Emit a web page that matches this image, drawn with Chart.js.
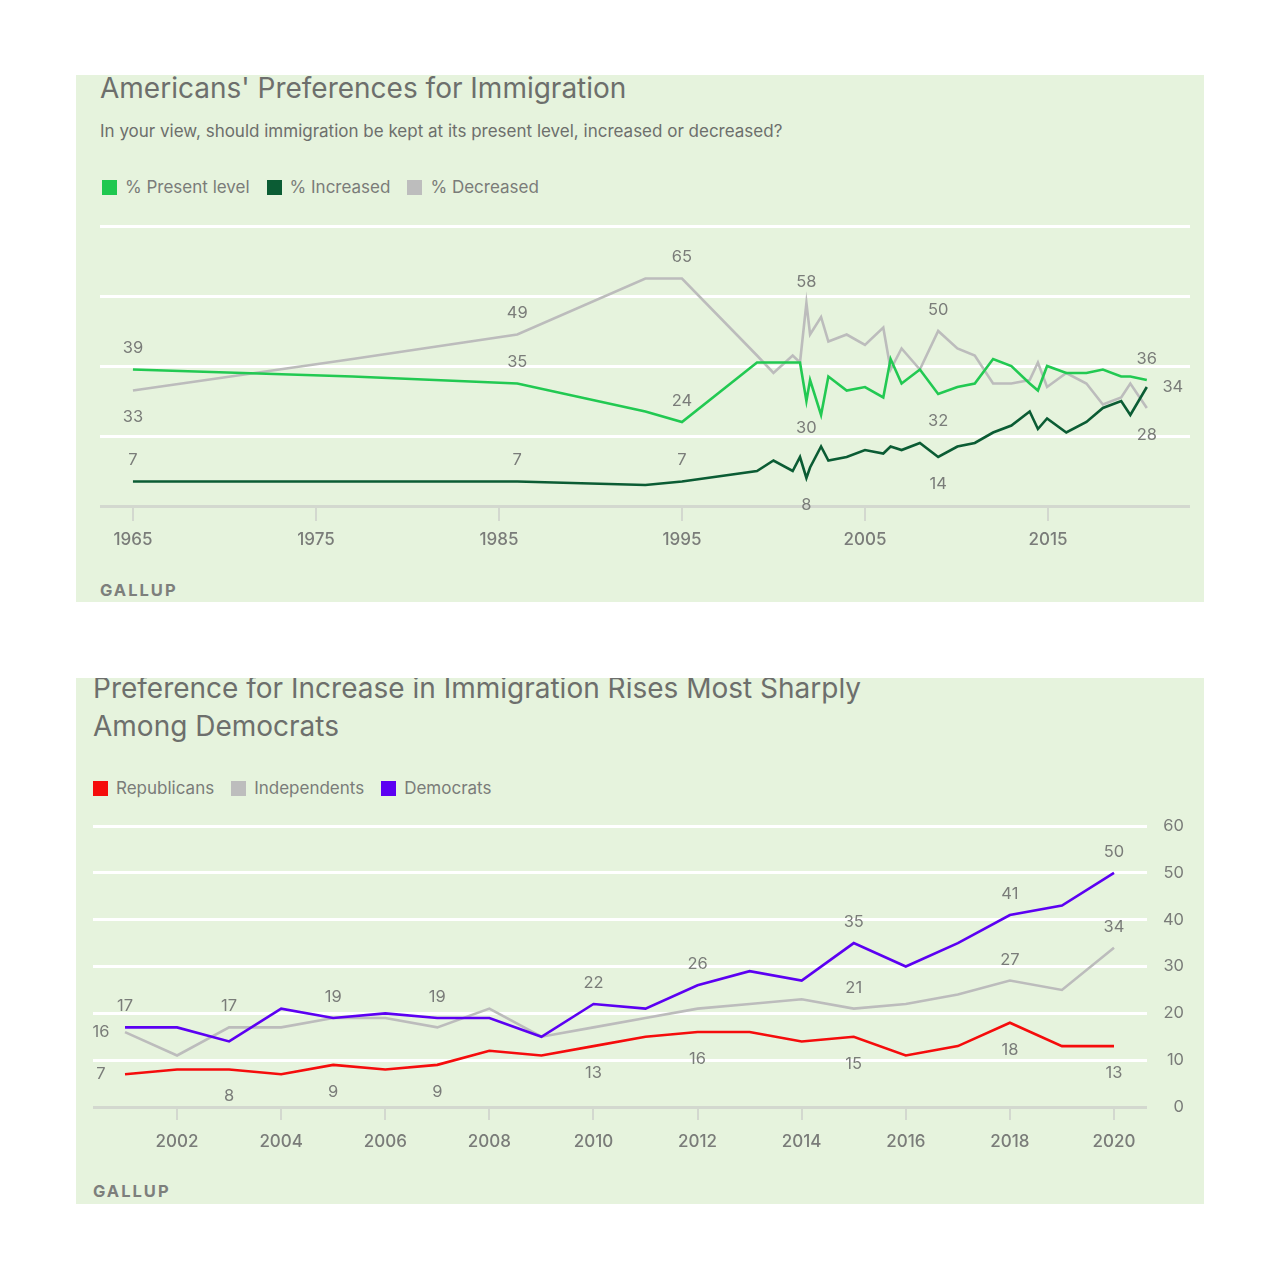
<!DOCTYPE html>
<html><head><meta charset="utf-8">
<script src="https://cdn.jsdelivr.net/npm/chart.js@4.4.0/dist/chart.umd.min.js"></script>
<style>
html,body{margin:0;padding:0;background:#fff;width:1280px;height:1280px;overflow:hidden;font-family:Inter,Roboto,"Noto Sans",sans-serif;}
.panel{position:absolute;left:76px;width:1128px;background:#e6f3dd;overflow:hidden;}
#p1{top:75px;height:527px;}
#p2{top:678px;height:526px;}
.title{position:absolute;color:#6d6f6c;font-size:28px;line-height:38px;white-space:nowrap;}
.sub{position:absolute;color:#6d6f6c;font-size:17px;line-height:20px;white-space:nowrap;}
.legend{position:absolute;display:flex;align-items:center;font-size:17px;line-height:20px;color:#7a7c79;white-space:nowrap;}
.legend .box{display:inline-block;width:15px;height:15px;margin-right:8px;}
.legend .item{display:flex;align-items:center;margin-right:17px;}
.src{position:absolute;font-size:16.5px;line-height:20px;font-weight:bold;letter-spacing:2px;color:#7d7f7c;}
canvas{position:absolute;left:0;}
</style>
</head>
<body>
<div class="panel" id="p1">
  <div class="title" style="left:24px;top:-6px;">Americans' Preferences for Immigration</div>
  <div class="sub" style="left:24px;top:46px;">In your view, should immigration be kept at its present level, increased or decreased?</div>
  <div class="legend" style="left:26px;top:102px;">
    <span class="item"><span class="box" style="background:#1fc850"></span>% Present level</span>
    <span class="item"><span class="box" style="background:#0b5c34"></span>% Increased</span>
    <span class="item"><span class="box" style="background:#bdbdbd"></span>% Decreased</span>
  </div>
  <canvas id="c1" width="1128" height="360" style="top:135px;width:1128px;height:360px;"></canvas>
  <div class="src" style="left:24px;top:505px;">GALLUP</div>
</div>
<div class="panel" id="p2">
  <div class="title" style="left:17px;top:-9px;">Preference for Increase in Immigration Rises Most Sharply<br>Among Democrats</div>
  <div class="legend" style="left:17px;top:100px;">
    <span class="item"><span class="box" style="background:#f50c0c"></span>Republicans</span>
    <span class="item"><span class="box" style="background:#bdbdbd"></span>Independents</span>
    <span class="item"><span class="box" style="background:#5c00f2"></span>Democrats</span>
  </div>
  <canvas id="c2" width="1128" height="380" style="top:122px;width:1128px;height:380px;"></canvas>
  <div class="src" style="left:17px;top:503px;">GALLUP</div>
</div>
<script>
// ---------- Chart 1 data ----------
const years1 = [1965, 1977, 1986, 1993, 1995, 1999.1, 2000, 2001.05, 2001.45, 2001.8, 2002, 2002.6, 2003, 2004, 2005, 2006, 2006.4, 2007, 2008, 2009, 2010.05, 2011, 2012, 2013, 2014, 2014.45, 2014.95, 2016, 2017.1, 2018, 2019, 2019.5, 2020.4];
const presentLevel = [39, 37, 35, 27, 24, 41, 41, 41, 41, 30, 36, 26, 37, 33, 34, 31, 42, 35, 39, 32, 34, 35, 42, 40, 35, 33, 40, 38, 38, 39, 37, 37, 36];
const increased = [7, 7, 7, 6, 7, 10, 13, 10, 14, 8, 11, 17, 13, 14, 16, 15, 17, 16, 18, 14, 17, 18, 21, 23, 27, 22, 25, 21, 24, 28, 30, 26, 34];
const decreased = [33, 42, 49, 65, 65, 43, 38, 43, 41, 58, 49, 54, 47, 49, 46, 51, 39, 45, 39, 50, 45, 43, 35, 35, 36, 41, 34, 38, 35, 29, 31, 35, 28];
const xTicks1 = [1965, 1975, 1985, 1995, 2005, 2015];
const yTicks1 = [0, 20, 40, 60, 80];

// ---------- Chart 2 data ----------
const years2 = [2001, 2002, 2003, 2004, 2005, 2006, 2007, 2008, 2009, 2010, 2011, 2012, 2013, 2014, 2015, 2016, 2017, 2018, 2019, 2020];
const republicans = [7, 8, 8, 7, 9, 8, 9, 12, 11, 13, 15, 16, 16, 14, 15, 11, 13, 18, 13, 13];
const independents = [16, 11, 17, 17, 19, 19, 17, 21, 15, 17, 19, 21, 22, 23, 21, 22, 24, 27, 25, 34];
const democrats = [17, 17, 14, 21, 19, 20, 19, 19, 15, 22, 21, 26, 29, 27, 35, 30, 35, 41, 43, 50];
const xTicks2 = [2002, 2004, 2006, 2008, 2010, 2012, 2014, 2016, 2018, 2020];
const yTicks2 = [0, 10, 20, 30, 40, 50, 60];

// label placement (which points carry a value label)
const labels1 = [
  {ds:'present', i:0, pos:'above'}, {ds:'present', i:2, pos:'above'}, {ds:'present', i:4, pos:'above'},
  {ds:'present', i:9, pos:'below'}, {ds:'present', i:19, pos:'below'}, {ds:'present', i:32, pos:'above'},
  {ds:'increased', i:0, pos:'above'}, {ds:'increased', i:2, pos:'above'}, {ds:'increased', i:4, pos:'above'},
  {ds:'increased', i:9, pos:'below'}, {ds:'increased', i:19, pos:'below'}, {ds:'increased', i:32, pos:'right'},
  {ds:'decreased', i:0, pos:'below'}, {ds:'decreased', i:2, pos:'above'}, {ds:'decreased', i:4, pos:'above'},
  {ds:'decreased', i:9, pos:'above'}, {ds:'decreased', i:19, pos:'above'}, {ds:'decreased', i:32, pos:'below'}
];
const labels2 = [
  {ds:'dem', i:0, pos:'above'}, {ds:'dem', i:4, pos:'above'}, {ds:'dem', i:6, pos:'above'}, {ds:'dem', i:9, pos:'above'},
  {ds:'dem', i:11, pos:'above'}, {ds:'dem', i:14, pos:'above'}, {ds:'dem', i:17, pos:'above'}, {ds:'dem', i:19, pos:'above'},
  {ds:'ind', i:0, pos:'left'}, {ds:'ind', i:2, pos:'above'}, {ds:'ind', i:14, pos:'above'}, {ds:'ind', i:17, pos:'above'}, {ds:'ind', i:19, pos:'above'},
  {ds:'rep', i:0, pos:'left'}, {ds:'rep', i:2, pos:'below'}, {ds:'rep', i:4, pos:'below'}, {ds:'rep', i:6, pos:'below'},
  {ds:'rep', i:9, pos:'below'}, {ds:'rep', i:11, pos:'below'}, {ds:'rep', i:14, pos:'below'}, {ds:'rep', i:17, pos:'below'}, {ds:'rep', i:19, pos:'below'}
];

const FONT = 'Inter, Roboto, "Noto Sans", sans-serif';
const TXT = '#7a7c79';

const pointLabels = {
  id: 'pointLabels',
  afterDraw(chart, args, opts) {
    const ctx = chart.ctx;
    ctx.save();
    ctx.font = '16.5px ' + FONT;
    ctx.fillStyle = TXT;
    ctx.textAlign = 'center';
    ctx.textBaseline = 'middle';
    (opts.items || []).forEach(it => {
      const dsIndex = chart.data.datasets.findIndex(d => d.key === it.ds);
      const pt = chart.getDatasetMeta(dsIndex).data[it.i];
      const v = chart.data.datasets[dsIndex].data[it.i].y;
      let x = pt.x, y = pt.y;
      if (it.pos === 'above') y -= 21;
      else if (it.pos === 'below') y += 27;
      else if (it.pos === 'left') x -= 24;
      else if (it.pos === 'right') x += 26;
      ctx.fillText(String(v), x, y);
    });
    ctx.restore();
  }
};

function pts(xs, ys) { return xs.map((x, i) => ({x: x, y: ys[i]})); }
function line(key, xs, ys, color) {
  return {key: key, data: pts(xs, ys), borderColor: color, backgroundColor: color, borderWidth: 2.6,
          pointRadius: 0, pointHoverRadius: 0, tension: 0, fill: false};
}

new Chart(document.getElementById('c1'), {
  type: 'line',
  data: {datasets: [
    line('increased', years1, increased, '#0b5c34'),
    line('present', years1, presentLevel, '#22c952'),
    line('decreased', years1, decreased, '#bcbcbc')
  ]},
  options: {
    responsive: false, animation: false, devicePixelRatio: 1,
    layout: {padding: {left: 24, right: 14, top: 16, bottom: 0}},
    plugins: {legend: {display: false}, tooltip: {enabled: false}, pointLabels: {items: labels1}},
    scales: {
      x: {type: 'linear', min: 1963.2, max: 2022.76,
          afterBuildTicks: s => { s.ticks = xTicks1.map(v => ({value: v})); },
          afterFit: s => { s.height = 64; },
          grid: {drawOnChartArea: false, drawTicks: true, tickLength: 15, color: '#d3d8cf', lineWidth: 2},
          border: {display: false},
          ticks: {callback: v => String(v), color: TXT, font: {size: 17, weight: '500', family: FONT}, padding: 9, maxRotation: 0, autoSkip: false}},
      y: {min: 0, max: 80,
          afterBuildTicks: s => { s.ticks = yTicks1.map(v => ({value: v})); },
          afterFit: s => { s.width = 0; },
          ticks: {display: false}, border: {display: false},
          grid: {color: c => c.tick && c.tick.value === 0 ? '#d3d8cf' : '#ffffff', lineWidth: 3, drawTicks: false}}
    }
  },
  plugins: [pointLabels]
});

new Chart(document.getElementById('c2'), {
  type: 'line',
  data: {datasets: [
    line('dem', years2, democrats, '#5c00f2'),
    line('rep', years2, republicans, '#f50c0c'),
    line('ind', years2, independents, '#bcbcbc')
  ]},
  options: {
    responsive: false, animation: false, devicePixelRatio: 1,
    layout: {padding: {left: 17, right: 20, top: 26, bottom: 0}},
    plugins: {legend: {display: false}, tooltip: {enabled: false}, pointLabels: {items: labels2}},
    scales: {
      x: {type: 'linear', min: 2000.385, max: 2020.634,
          afterBuildTicks: s => { s.ticks = xTicks2.map(v => ({value: v})); },
          afterFit: s => { s.height = 73; },
          grid: {drawOnChartArea: false, drawTicks: true, tickLength: 13, color: '#d3d8cf', lineWidth: 2},
          border: {display: false},
          ticks: {callback: v => String(v), color: TXT, font: {size: 17, weight: '500', family: FONT}, padding: 12, maxRotation: 0, autoSkip: false}},
      y: {position: 'right', min: 0, max: 60,
          afterBuildTicks: s => { s.ticks = yTicks2.map(v => ({value: v})); },
          afterFit: s => { s.width = 37; },
          ticks: {color: TXT, font: {size: 16.5, family: FONT}, crossAlign: 'far', padding: 0},
          border: {display: false},
          grid: {color: c => c.tick && c.tick.value === 0 ? '#d3d8cf' : '#ffffff', lineWidth: 3, drawTicks: false}}
    }
  },
  plugins: [pointLabels]
});
</script>
</body></html>
